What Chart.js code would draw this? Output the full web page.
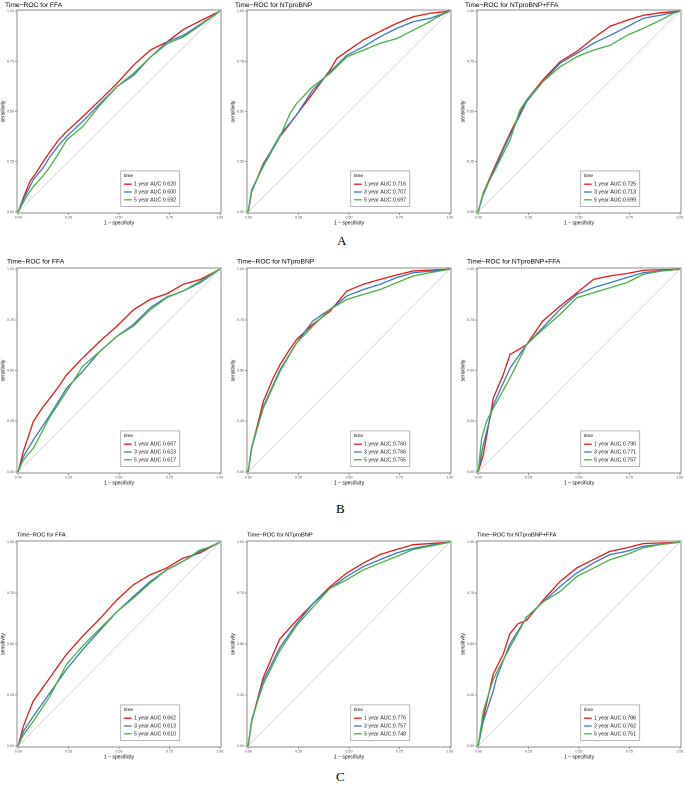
<!DOCTYPE html>
<html>
<head>
<meta charset="utf-8">
<script src="https://cdn.jsdelivr.net/npm/chart.js@4.4.1/dist/chart.umd.min.js"></script>
<style>
  body { margin: 0; background: #fff; width: 685px; height: 785px; position: relative; overflow: hidden; }
  .panel { position: absolute; }
  .tag { position: absolute; font-family: "Liberation Serif", "Times New Roman", serif; font-size: 13px; color: #000; }
</style>
</head>
<body>
<div class="tag" style="left:337px;top:233px">A</div>
<div class="tag" style="left:336px;top:501px">B</div>
<div class="tag" style="left:336px;top:769px">C</div>

<script>
// ---- data: [1 - specificity, sensitivity] ----
// row A
const A_FFA_1y = [[0,0],[0.025,0.068],[0.058,0.151],[0.091,0.197],[0.124,0.25],[0.158,0.30],[0.2,0.358],[0.24,0.40],[0.32,0.474],[0.406,0.557],[0.49,0.64],[0.572,0.731],[0.655,0.806],[0.738,0.847],[0.82,0.909],[0.904,0.952],[1,1]];
const A_FFA_3y = [[0,0],[0.025,0.06],[0.075,0.16],[0.124,0.22],[0.158,0.275],[0.2,0.33],[0.24,0.375],[0.32,0.45],[0.406,0.54],[0.49,0.624],[0.572,0.68],[0.655,0.77],[0.738,0.847],[0.82,0.88],[0.904,0.935],[1,1]];
const A_FFA_5y = [[0,0],[0.041,0.076],[0.075,0.126],[0.124,0.18],[0.158,0.225],[0.2,0.29],[0.24,0.358],[0.32,0.425],[0.406,0.532],[0.49,0.624],[0.572,0.69],[0.655,0.77],[0.738,0.838],[0.82,0.872],[0.904,0.93],[1,1]];
const A_BNP_1y = [[0,0],[0.017,0.1],[0.075,0.24],[0.158,0.375],[0.24,0.483],[0.32,0.59],[0.406,0.706],[0.44,0.765],[0.49,0.80],[0.572,0.857],[0.655,0.899],[0.738,0.94],[0.82,0.973],[0.904,0.99],[1,1]];
const A_BNP_3y = [[0,0],[0.017,0.1],[0.075,0.234],[0.158,0.383],[0.24,0.483],[0.32,0.607],[0.406,0.698],[0.49,0.781],[0.572,0.823],[0.655,0.873],[0.738,0.915],[0.82,0.948],[0.904,0.965],[1,1]];
const A_BNP_5y = [[0,0],[0.017,0.11],[0.075,0.226],[0.158,0.375],[0.207,0.49],[0.24,0.54],[0.32,0.624],[0.406,0.69],[0.49,0.773],[0.572,0.806],[0.655,0.84],[0.738,0.864],[0.804,0.898],[0.887,0.94],[0.937,0.97],[1,1]];
const A_MIX_1y = [[0,0],[0.025,0.093],[0.075,0.209],[0.158,0.392],[0.24,0.557],[0.32,0.657],[0.406,0.748],[0.49,0.80],[0.572,0.866],[0.655,0.925],[0.738,0.955],[0.82,0.98],[0.904,0.992],[1,1]];
const A_MIX_3y = [[0,0],[0.025,0.085],[0.075,0.2],[0.158,0.383],[0.24,0.549],[0.32,0.648],[0.406,0.74],[0.49,0.79],[0.572,0.84],[0.655,0.88],[0.738,0.922],[0.82,0.965],[0.904,0.98],[1,1]];
const A_MIX_5y = [[0,0],[0.025,0.097],[0.075,0.192],[0.158,0.358],[0.207,0.507],[0.24,0.557],[0.32,0.648],[0.406,0.723],[0.49,0.773],[0.572,0.806],[0.655,0.83],[0.738,0.88],[0.82,0.915],[0.904,0.955],[0.97,0.99],[1,1]];
// row B
const B_FFA_1y = [[0,0],[0.025,0.099],[0.075,0.248],[0.124,0.322],[0.158,0.364],[0.2,0.42],[0.24,0.479],[0.32,0.562],[0.406,0.645],[0.49,0.719],[0.572,0.80],[0.655,0.851],[0.738,0.879],[0.82,0.926],[0.904,0.95],[1,1]];
const B_FFA_3y = [[0,0],[0.025,0.074],[0.075,0.157],[0.158,0.281],[0.24,0.413],[0.32,0.496],[0.406,0.595],[0.49,0.669],[0.572,0.727],[0.655,0.81],[0.738,0.863],[0.82,0.893],[0.904,0.934],[1,1]];
const B_FFA_5y = [[0,0],[0.025,0.058],[0.075,0.116],[0.158,0.273],[0.24,0.397],[0.32,0.521],[0.406,0.595],[0.49,0.669],[0.572,0.719],[0.655,0.80],[0.738,0.86],[0.82,0.893],[0.904,0.942],[1,1]];
const B_BNP_1y = [[0,0],[0.017,0.116],[0.075,0.347],[0.124,0.463],[0.158,0.529],[0.2,0.595],[0.24,0.653],[0.32,0.727],[0.406,0.793],[0.49,0.893],[0.572,0.926],[0.655,0.95],[0.738,0.972],[0.82,0.992],[1,1]];
const B_BNP_3y = [[0,0],[0.017,0.116],[0.075,0.322],[0.158,0.504],[0.24,0.636],[0.32,0.744],[0.406,0.802],[0.49,0.868],[0.572,0.90],[0.655,0.926],[0.738,0.959],[0.82,0.983],[0.904,0.99],[1,1]];
const B_BNP_5y = [[0,0],[0.017,0.124],[0.075,0.314],[0.158,0.496],[0.24,0.636],[0.32,0.719],[0.406,0.802],[0.49,0.851],[0.572,0.876],[0.655,0.90],[0.738,0.934],[0.82,0.967],[0.904,0.983],[1,1]];
const B_MIX_1y = [[0,0],[0.025,0.083],[0.075,0.364],[0.124,0.479],[0.158,0.579],[0.2,0.603],[0.24,0.628],[0.32,0.744],[0.406,0.818],[0.49,0.884],[0.572,0.95],[0.655,0.967],[0.738,0.979],[0.82,0.995],[1,1]];
const B_MIX_3y = [[0,0],[0.025,0.132],[0.075,0.33],[0.158,0.512],[0.24,0.628],[0.32,0.711],[0.406,0.802],[0.49,0.876],[0.572,0.909],[0.655,0.934],[0.738,0.959],[0.82,0.983],[0.904,0.992],[1,1]];
const B_MIX_5y = [[0,0],[0.017,0.165],[0.041,0.248],[0.075,0.314],[0.158,0.463],[0.24,0.628],[0.32,0.702],[0.406,0.777],[0.49,0.86],[0.572,0.884],[0.655,0.909],[0.738,0.934],[0.82,0.975],[0.904,0.99],[1,1]];
// row C
const C_FFA_1y = [[0,0],[0.025,0.094],[0.074,0.219],[0.157,0.334],[0.198,0.392],[0.24,0.45],[0.322,0.541],[0.405,0.624],[0.488,0.715],[0.57,0.79],[0.653,0.839],[0.736,0.873],[0.818,0.922],[0.901,0.947],[1,1]];
const C_FFA_3y = [[0,0],[0.025,0.07],[0.074,0.144],[0.157,0.26],[0.24,0.376],[0.322,0.475],[0.405,0.566],[0.488,0.657],[0.57,0.732],[0.653,0.806],[0.736,0.864],[0.818,0.906],[0.901,0.955],[1,1]];
const C_FFA_5y = [[0,0],[0.025,0.053],[0.074,0.119],[0.157,0.243],[0.24,0.40],[0.322,0.492],[0.405,0.575],[0.488,0.657],[0.57,0.724],[0.653,0.798],[0.736,0.864],[0.818,0.906],[0.901,0.962],[0.95,0.975],[1,1]];
const C_BNP_1y = [[0,0],[0.017,0.119],[0.074,0.334],[0.124,0.45],[0.157,0.525],[0.24,0.616],[0.322,0.699],[0.405,0.781],[0.488,0.848],[0.57,0.897],[0.653,0.939],[0.736,0.964],[0.818,0.988],[1,1]];
const C_BNP_3y = [[0,0],[0.017,0.119],[0.074,0.318],[0.157,0.483],[0.24,0.60],[0.322,0.699],[0.405,0.773],[0.488,0.831],[0.57,0.88],[0.653,0.914],[0.736,0.947],[0.818,0.97],[0.901,0.985],[1,1]];
const C_BNP_5y = [[0,0],[0.017,0.128],[0.074,0.301],[0.157,0.467],[0.24,0.591],[0.322,0.682],[0.405,0.773],[0.488,0.815],[0.57,0.864],[0.653,0.897],[0.736,0.93],[0.818,0.964],[0.901,0.98],[1,1]];
const C_MIX_1y = [[0,0],[0.025,0.136],[0.074,0.351],[0.124,0.45],[0.157,0.55],[0.198,0.60],[0.24,0.616],[0.322,0.715],[0.405,0.806],[0.488,0.873],[0.57,0.914],[0.653,0.955],[0.736,0.972],[0.818,0.993],[1,1]];
const C_MIX_3y = [[0,0],[0.025,0.119],[0.074,0.268],[0.091,0.334],[0.157,0.50],[0.24,0.632],[0.322,0.707],[0.405,0.781],[0.488,0.848],[0.57,0.897],[0.653,0.939],[0.736,0.955],[0.818,0.98],[1,1]];
const C_MIX_5y = [[0,0],[0.025,0.169],[0.074,0.326],[0.157,0.483],[0.24,0.632],[0.322,0.707],[0.405,0.757],[0.488,0.831],[0.57,0.872],[0.653,0.914],[0.736,0.939],[0.818,0.972],[0.901,0.988],[1,1]];

const diagonal = [[0,0],[1,1]];

// labels
const panelTitles = ["Time\u2212ROC for FFA", "Time\u2212ROC for NTproBNP", "Time\u2212ROC for NTproBNP+FFA"];
const yearNames = ["1 year", "3 year", "5 year"];
const aucA = [["0.620","0.600","0.592"], ["0.716","0.707","0.697"], ["0.725","0.713","0.699"]];
const aucB = [["0.667","0.623","0.617"], ["0.760","0.766","0.755"], ["0.790","0.771","0.757"]];
const aucC = [["0.662","0.613","0.610"], ["0.776","0.757","0.748"], ["0.786","0.762","0.751"]];
const tickValues = [0, 0.25, 0.5, 0.75, 1];
const tickLabels = ["0.00", "0.25", "0.50", "0.75", "1.00"];
const colors = ["#E41A1C", "#377EB8", "#4DAF4A"];

const rows = [
  { curves: [[A_FFA_1y, A_FFA_3y, A_FFA_5y], [A_BNP_1y, A_BNP_3y, A_BNP_5y], [A_MIX_1y, A_MIX_3y, A_MIX_5y]], auc: aucA,
    top: 0, padTop: 10, plotH: 203, titleX: 5, titleY: 5, titleSize: 6.7 },
  { curves: [[B_FFA_1y, B_FFA_3y, B_FFA_5y], [B_BNP_1y, B_BNP_3y, B_BNP_5y], [B_MIX_1y, B_MIX_3y, B_MIX_5y]], auc: aucB,
    top: 255, padTop: 13, plotH: 205, titleX: 7, titleY: 6.7, titleSize: 6.7 },
  { curves: [[C_FFA_1y, C_FFA_3y, C_FFA_5y], [C_BNP_1y, C_BNP_3y, C_BNP_5y], [C_MIX_1y, C_MIX_3y, C_MIX_5y]], auc: aucC,
    top: 528, padTop: 13, plotH: 206, titleX: 17, titleY: 7, titleSize: 5.7 }
];
const colLeft = [0, 230, 460];
const colWidth = [228, 228, 225];

const FONT = '"Liberation Sans", Arial, sans-serif';

// title, frame and legend box drawn like the ggplot original
const rocDeco = {
  id: "rocDeco",
  afterDatasetsDraw(chart, args, opts) {
    const { ctx, chartArea: a } = chart;
    ctx.save();
    ctx.strokeStyle = "#8a8a8a";
    ctx.lineWidth = 1;
    ctx.strokeRect(a.left, a.top, a.right - a.left, a.bottom - a.top);
    ctx.restore();
  },
  afterDraw(chart, args, opts) {
    const { ctx, chartArea: a } = chart;
    ctx.save();
    ctx.fillStyle = "#000";
    ctx.textBaseline = "middle";
    ctx.font = opts.titleSize + "px " + FONT;
    ctx.fillText(opts.title, opts.titleX, opts.titleY);

    // legend
    const w = 59, h = 35.6;
    const lx = a.left + 103.7, ly = a.bottom - 6.5 - h;
    ctx.fillStyle = "#fff";
    ctx.fillRect(lx, ly, w, h);
    ctx.strokeStyle = "#a6a6a6";
    ctx.lineWidth = 0.8;
    ctx.strokeRect(lx, ly, w, h);
    ctx.fillStyle = "#000";
    ctx.font = "4.8px " + FONT;
    ctx.fillText("time", lx + 3.3, ly + 5);
    ctx.font = "5.3px " + FONT;
    opts.labels.forEach((lab, i) => {
      const yy = ly + 13.3 + i * 7.8;
      ctx.strokeStyle = colors[i];
      ctx.lineWidth = 1.3;
      ctx.beginPath();
      ctx.moveTo(lx + 3.3, yy);
      ctx.lineTo(lx + 11, yy);
      ctx.stroke();
      ctx.fillStyle = "#1a1a1a";
      ctx.fillText(lab, lx + 13.3, yy);
    });
    ctx.restore();
  }
};

const toPoints = (arr) => arr.map((p) => ({ x: p[0], y: p[1] }));

rows.forEach((row, r) => {
  for (let c = 0; c < 3; c++) {
    const W = colWidth[c];
    const H = row.padTop + row.plotH + 13;
    const div = document.createElement("div");
    div.className = "panel";
    div.style.left = colLeft[c] + "px";
    div.style.top = row.top + "px";
    div.style.width = W + "px";
    div.style.height = H + "px";
    const canvas = document.createElement("canvas");
    canvas.width = W;
    canvas.height = H;
    canvas.style.width = W + "px";
    canvas.style.height = H + "px";
    div.appendChild(canvas);
    document.body.appendChild(div);

    // colon in the legend for the NTproBNP panels, space for FFA
    const sep = c === 0 ? " " : ":";
    const labels = yearNames.map((y, i) => y + " AUC" + sep + row.auc[c][i]);

    const datasets = row.curves[c].map((curve, i) => ({
      label: labels[i],
      data: toPoints(curve),
      borderColor: colors[i],
      borderWidth: 1.3,
      pointRadius: 0,
      tension: 0,
      fill: false,
      order: 3 - i
    }));
    datasets.push({
      label: "ref",
      data: toPoints(diagonal),
      borderColor: "#c4c4c4",
      borderWidth: 0.6,
      pointRadius: 0,
      fill: false,
      order: 10
    });

    new Chart(canvas, {
      type: "line",
      data: { datasets: datasets },
      options: {
        responsive: false,
        animation: false,
        devicePixelRatio: 2,
        layout: { padding: { top: row.padTop, left: 0, right: W - 221, bottom: 0 } },
        plugins: {
          legend: { display: false },
          title: { display: false },
          tooltip: { enabled: false },
          rocDeco: { title: panelTitles[c], titleX: row.titleX, titleY: row.titleY, titleSize: row.titleSize, labels: labels }
        },
        scales: {
          x: {
            type: "linear",
            min: -0.006,
            max: 1.006,
            afterBuildTicks: (s) => { s.ticks = tickValues.map((v) => ({ value: v })); },
            afterFit: (s) => { s.height = 13; },
            ticks: {
              callback: (v, i) => tickLabels[i],
              font: { size: 3.6, family: FONT },
              color: "#4d4d4d",
              padding: 0.5,
              maxRotation: 0,
              autoSkip: false
            },
            grid: { drawOnChartArea: false, tickLength: 2, color: "#4d4d4d", lineWidth: 0.6 },
            border: { display: false },
            title: { display: true, text: "1 \u2212 specificity", font: { size: 5, family: FONT }, color: "#000", padding: 0 }
          },
          y: {
            type: "linear",
            min: -0.006,
            max: 1.006,
            afterBuildTicks: (s) => { s.ticks = tickValues.map((v) => ({ value: v })); },
            afterFit: (s) => { s.width = 17; },
            ticks: {
              callback: (v, i) => tickLabels[i],
              font: { size: 3.6, family: FONT },
              color: "#4d4d4d",
              padding: 1,
              autoSkip: false
            },
            grid: { drawOnChartArea: false, tickLength: 2, color: "#4d4d4d", lineWidth: 0.6 },
            border: { display: false },
            title: { display: true, text: "sensitivity", font: { size: 5, family: FONT }, color: "#000", padding: 0 }
          }
        }
      },
      plugins: [rocDeco]
    });
  }
});
</script>
</body>
</html>
